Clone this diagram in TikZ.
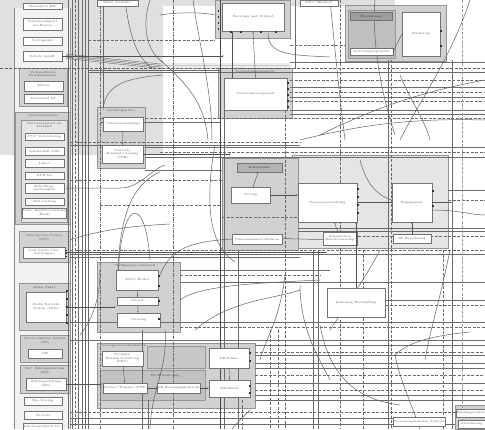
\documentclass[tikz,border=0pt]{standalone}
\usetikzlibrary{arrows.meta}
\begin{document}
\tikzset{
  bx/.style={draw=black!55, fill=white, line width=0.6pt, inner sep=0.3pt, outer sep=0pt,
    font=\fontsize{3}{3.5}\selectfont, align=center, text=black!65},
  grp/.style={draw=black!42, fill=black!18, line width=0.7pt},
  grpl/.style={draw=black!42, fill=black!10, line width=0.7pt},
  hdr/.style={font=\fontsize{3}{3.5}\selectfont, text=black!70, inner sep=0.3pt, align=center},
  ln/.style={draw=black!58, line width=0.4pt},
  lnd/.style={draw=black!58, line width=0.4pt, dash pattern=on 3pt off 1.5pt},
  lndd/.style={draw=black!58, line width=0.4pt, dash pattern=on 3pt off 1pt on 0.6pt off 1pt},
  lnh/.style={draw=black!72, line width=0.8pt},
  crv/.style={draw=black!62, line width=0.5pt},
  con/.style={draw=black!68, line width=0.4pt, -{Latex[length=1.6pt,width=1.3pt]}},
  port/.style={fill=black!80},
}
\newcommand\BX[7][]{\node[bx,#1,minimum width={(#5-#3)*1pt},minimum height={(#6-#4)*1pt}] (#2) at ({(#3+#5)/2},{(#4+#6)/2}) {#7};}
\newcommand\GR[5][grp]{\draw[#1] (#2,#3) rectangle (#4,#5);}
\begin{tikzpicture}[x=1pt,y=-1pt]
\useasboundingbox (0,0) rectangle (485,429);
\fill[white] (0,0) rectangle (485,429);
% gray sidebar backgrounds
\fill[black!12] (0,0) rectangle (163,155);
\fill[black!12] (0,0) rectangle (395,6);
% left column panel
\fill[black!5] (14,8) rectangle (70,429);
\draw[black!45, line width=0.6pt] (14,8) -- (14,429);
\draw[black!40, line width=0.5pt] (70,8) -- (70,429);

% ---------- groups ----------
\GR{19}{68}{67}{106}
\GR{15}{112}{70}{224}
\GR[grpl]{21}{120}{67}{222}
\GR{19}{231}{70}{262}
\GR{19}{283}{70}{330}
\GR{20}{335}{70}{362}
\GR{20}{365}{70}{393}
\GR{215}{0}{290}{38}
\GR{218}{68}{292}{118}
\GR{345}{5}{446}{61}
\draw[black!40, fill=black!25, line width=0.5pt] (348,10) rectangle (395,58);
\GR{97}{107}{145}{168}
\GR[grpl]{292}{155}{448}{248}
\GR{222}{158}{298}{250}
\GR{97}{262}{180}{332}
\GR{97}{343}{255}{408}
\draw[black!40, fill=black!24, line width=0.5pt] (100,370) rectangle (205,400);
\draw[black!40, fill=black!22, line width=0.5pt] (147,346) rectangle (205,368);
\GR{455}{405}{485}{429}

% ---------- horizontal lines ----------
\draw[lnd, line width=0.8pt, draw=black!62] (0,68) -- (485,68);
\foreach \y in {62,87,97,110,114} \draw[ln] (290,\y) -- (485,\y);
\foreach \y in {80,92,101} \draw[lnd] (290,\y) -- (485,\y);
\draw[ln] (88,72) -- (485,72);
\draw[ln] (88,70.5) -- (220,70.5);
\draw[lnd] (100,118) -- (485,118);
\draw[ln] (100,122) -- (220,122);
\draw[lnd] (88,40) -- (215,40);
\draw[lnd] (290,45) -- (345,45);
\draw[lnd] (70,142) -- (300,142);
\draw[ln] (70,145) -- (300,145);
\foreach \y in {147,157} \draw[ln] (145,\y) -- (485,\y);
\draw[lnd] (160,152) -- (485,152);
\draw[ln] (145,170) -- (222,170);
\draw[lnd] (70,180) -- (222,180);
\draw[lnd] (100,205) -- (222,205);
\draw[lnd] (222,217) -- (298,217);
\draw[ln] (448,190) -- (485,190);
\draw[lnd] (448,200) -- (485,200);
\draw[ln] (298,228) -- (485,228);
\draw[ln] (298,231.5) -- (485,231.5);
\draw[lnd] (340,236) -- (485,236);
\draw[lnd] (70,250) -- (485,250);
\draw[ln] (70,254) -- (485,254);
\draw[ln] (70,257) -- (300,257);
\draw[ln] (180,270) -- (330,270);
\draw[lnd] (180,275) -- (320,275);
\draw[ln] (180,282) -- (485,282);
\draw[ln] (385,300) -- (485,300);
\draw[lnd] (385,305) -- (485,305);
\draw[ln] (70,322) -- (485,322);
\draw[lnd] (180,327) -- (485,327);
\draw[ln] (70,340) -- (485,340);
\foreach \y in {345,355,363,368,383,395,400} \draw[ln] (255,\y) -- (485,\y);
\foreach \y in {352,375,390} \draw[lnd] (255,\y) -- (485,\y);
\draw[lnd] (70,412) -- (485,412);
\draw[ln] (70,418) -- (398,418);
\draw[ln] (70,424) -- (455,424);
% fan from Schufa GmbH
\foreach \i in {0,1.5,3,4.5} \draw[ln] (66,{54+\i}) -- (160,{64+\i}) -- (290,{64+\i});

% ---------- vertical lines ----------
\foreach \x in {68,72,78,82,85,88} \draw[ln] (\x,0) -- (\x,429);
\draw[lnd] (75,0) -- (75,429);
\draw[lndd] (100,0) -- (100,429);
\draw[ln] (103,0) -- (103,107);
\draw[lndd] (173,0) -- (173,429);
\draw[lnh] (220,0) -- (220,429);
\draw[ln] (224,110) -- (224,429);
\draw[lnd] (285,110) -- (285,429);
\draw[ln] (295,0) -- (295,68);
\draw[lnd] (340,0) -- (340,429);
\draw[ln] (313,250) -- (313,429);
\draw[ln] (318,250) -- (318,429);
\draw[lnd] (270,330) -- (270,429);
\draw[lnd] (278,330) -- (278,429);
\draw[lnd] (363,250) -- (363,429);
\draw[ln, line width=0.6pt] (388,60) -- (388,429);
\draw[lnd] (391,60) -- (391,429);
\draw[lnd] (443,250) -- (443,429);
\draw[ln] (452,60) -- (452,429);
\draw[lnd, draw=black!38] (462,0) -- (462,429);
\draw[ln] (238,250) -- (238,429);
\draw[lnd] (242,400) -- (242,429);
\draw[ln] (142,330) -- (142,429);
\draw[ln] (148,400) -- (148,429);

% ---------- curves ----------
\draw[crv] (103,110) .. controls (105,85) and (125,78) .. (163,75);
\draw[crv] (125,0) .. controls (130,40) and (138,58) .. (152,68);
\draw[crv] (150,0) .. controls (140,30) and (150,55) .. (163,62);
\draw[crv] (160,15) .. controls (180,12) and (200,12) .. (215,15);
\draw[crv] (193,0) .. controls (200,50) and (212,90) .. (212,140);
\draw[crv] (160,60) .. controls (195,90) and (205,110) .. (208,140);
\draw[crv] (268,33) .. controls (268,55) and (290,55) .. (330,57);
\draw[crv] (330,0) .. controls (335,50) and (340,100) .. (345,140);
\draw[crv] (470,0) .. controls (450,60) and (420,100) .. (400,140);
\draw[crv] (320,135) .. controls (380,105) and (430,90) .. (485,80);
\draw[crv] (300,140) .. controls (360,125) and (410,118) .. (485,120);
\draw[crv] (400,75) .. controls (410,100) and (425,120) .. (430,140);
\draw[crv] (375,0) .. controls (372,40) and (380,90) .. (395,135);
\draw[crv] (66,188) -- (120,188) .. controls (140,188) and (150,170) .. (165,165);
\draw[crv] (160,172) .. controls (130,185) and (120,220) .. (118,270);
\draw[crv] (118,280) .. controls (120,200) and (145,190) .. (150,260);
\draw[crv] (70,240) .. controls (100,230) and (130,226) .. (170,224);
\draw[crv] (215,145) .. controls (205,200) and (208,245) .. (235,262);
\draw[crv] (160,275) .. controls (175,240) and (200,235) .. (330,240);
\draw[crv] (180,300) .. controls (200,285) and (260,283) .. (320,280);
\draw[crv] (285,275) .. controls (280,320) and (265,340) .. (260,360);
\draw[crv] (300,285) .. controls (300,330) and (320,360) .. (330,380);
\draw[crv] (100,270) .. controls (100,300) and (92,320) .. (80,335);
\draw[crv] (165,330) .. controls (168,370) and (152,385) .. (150,429);
\draw[crv] (320,325) .. controls (330,380) and (360,400) .. (400,405);
\draw[crv] (395,355) .. controls (410,340) and (440,335) .. (470,332);
\draw[crv] (395,355) .. controls (400,380) and (410,400) .. (420,429);
\draw[crv] (195,330) .. controls (230,300) and (270,300) .. (300,290);
\draw[crv] (360,160) .. controls (365,180) and (375,195) .. (392,200);
\draw[crv] (432,210) .. controls (460,210) and (470,215) .. (485,215);
\draw[crv] (250,410) .. controls (240,420) and (235,425) .. (232,429);
\draw[crv] (330,330) .. controls (350,300) and (370,270) .. (380,250);
\draw[crv] (450,250) .. controls (440,300) and (430,330) .. (425,360);

% ---------- top strip boxes ----------
\BX{wk}{23}{3}{62}{9}{Warenkorb ZW}
\BX{mv}{97}{0}{138}{6}{Mitte (Verkehr)}
\BX{av}{300}{0}{338}{6}{Auto (Wechsel)}

% ---------- left column boxes ----------
\BX{va}{23}{18}{62}{30}{Versicherungsart\\der Bayern}
\BX{vi}{23}{37}{62}{45}{Vertragsinfo}
\BX{sg}{23}{51}{62}{61}{Schufa GmbH}
\node[hdr] (h1) at (43,74) {Verbundf\"uhrte\\Drucksachenart};
\BX{zi}{24}{81}{63}{91}{Zitiery}
\BX{kt}{24}{94}{63}{103}{Kartonteil LF}
\node[hdr] (h2) at (43,115.5) {Vertriebspartner};
\node[hdr] (h2b) at (44,125) {Vertriebspartner im\\Verbund};
\BX{pvv}{25}{133}{64}{140}{PVV Vertriebsweg}
\BX{oms}{25}{147}{64}{155}{Schadenfall OMS}
\BX{inf}{25}{159}{64}{167}{Infoce}
\BX{bvb}{25}{172}{64}{179}{BVB-Nu}
\BX{mit}{25}{183}{64}{193}{Mitteilung/\\Ausbezahlen}
\BX{spa}{25}{198}{64}{205}{SPA Leitung}
\BX{gkv}{25}{208}{64}{218}{Gebr. Kreditverwaltung\\(Bank)}
\node[hdr] (h3) at (44,238) {Sales Service Center\\(SSC)};
\BX{ccu}{23}{247}{65}{258}{Call Center User\\(Leitungen)}
\node[hdr] (h4) at (44,287) {Media Paket};
\BX{mns}{26}{292}{66}{322}{Media Network\\System (MNS)}
\node[hdr] (h5) at (45,341) {Service-Inform.-System\\(SIS)};
\BX{ois}{28}{349}{62}{358}{OIS}
\node[hdr] (h6) at (45,371) {Def. Zahlungssystems\\(ZaS)};
\BX{zus}{26}{378}{66}{390}{Zahlungsstellung\\(ZuS)}
\BX{ev}{24}{397}{62}{405}{Ein-Vertrag}
\BX{vic}{24}{411}{62}{419}{VI-Code}
\BX{lsv}{24}{423}{62}{431}{L\"anderspezifisch Vor.}

% ---------- top area ----------
\BX{bvk}{222}{3}{284}{31}{Beratung und Verkauf}
\node[hdr] (h7) at (255,71.5) {Vertriebsmanagement};
\BX{vm}{224}{78}{287}{110}{Vertriebsmanagement}
\BX[fill=black!38, text=black!80]{prv}{350}{12}{392}{20}{Provisionen}
\BX{vpg}{350}{48}{393}{55}{Vertriebsprogramme}
\BX{mk}{402}{12}{440}{56}{Marketing}

% ---------- middle ----------
\node[hdr] (h8) at (121,111) {Verbundpartner};
\BX{uf}{103}{117}{143}{131}{Unternehmensfolge}
\BX{vbk}{102}{145}{143}{163}{Vertrieb/\\Kundenbetreuung\\(VBK)}
\BX[fill=black!30, text=black!80]{ka}{237}{163}{282}{172}{Kundenakte}
\BX{vt}{231}{187}{270}{203}{Vertrag}
\BX{us}{232}{234}{282}{244}{Unternehmensstrukturen}
\BX{pv}{298}{183}{357}{222}{Personenverwaltung}
\BX{eg}{392}{183}{432}{222}{Engagement}
\BX{ez}{323}{232}{357}{245}{Einzelzeiten\\Konditionierung}
\BX{bb}{393}{234}{431}{243}{Bil Berechnung}
\node[hdr] (h9) at (135,265.5) {Verf\"ugungsbereitschaft};
\BX{br}{116}{270}{158}{290}{(DSO) Broker}
\BX{op}{117}{297}{158}{305}{Output}
\BX{cl}{117}{313}{160}{327}{Clearing}
\BX{lb}{327}{288}{385}{317}{Lieferung/Beschaffung}

% ---------- bottom ----------
\node[hdr, anchor=west] (h10) at (100,346) {Vertragsverbindlichkeiten};
\BX{pkv}{102}{351}{143}{366}{Produkt-\\Kundenverwaltung\\(PKV)}
\node[hdr] (h11) at (165,376) {PK-Erweiterung};
\BX{ptf}{105}{383}{145}{393}{Partner/Transfer (PTF)}
\BX{pkr}{158}{383}{200}{393}{PK-Rechnungskontrolle}
\BX{dbk}{209}{348}{249}{368}{DB-Kunde}
\BX{dbi}{209}{380}{250}{397}{DB-Inhalt}
\BX{pos}{398}{417}{440}{426}{Prozessorganisation Systeme}
\BX{zv}{458}{409}{485}{417}{Zahlungsverkehr}
\BX{zv2}{458}{420}{485}{428}{Abrechnung}

% ---------- connectors ----------
\draw[con] (vm.north) -- (bvk.south);
\draw[con] (vm.north west) ++(8,0) -- ++(0,-47);
\draw[con] (pv) -- (eg);
\draw[con] (vt) -- (pv.west |- vt);
\draw[con] (ka) -- (vt);
\draw[con] (br) -- (op);
\draw[con] (op) -- (cl);
\draw[con] (dbk) -- (dbi);
\draw[con] (pkv) -- (ptf);
\draw[con] (ptf) -- (pkr);
\draw[con] (pkr.east) -- (dbi.west |- pkr.east);
\draw[con] (uf) -- (vbk);
\draw[con] (vbk.east) -- (vt.west |- vbk.east);
\draw[con] (sg.east) -- (sg.east -| vm.west);
\draw[con] (mns.east) -- (br.west |- mns.east);
\draw[con] (ccu.east) -- (ccu.east -| lb.west);
\draw[con] (eg.east) -- ++(20,0);
\draw[con] (ez) -- (pv);
\draw[con] (bb) -- (eg);
\draw[con] (lb.north) -- (lb.north |- pv.south);
\draw[con] (mk.west) -- (vpg.east);
\draw[con] (zus.east) -- (pkv.west |- zus.east);

% ---------- ports ----------
\foreach \y in {82,88,94,100,106} \fill[port] (287,\y) rectangle +(1.8,1.6);
\foreach \y in {10,16,22,28} \fill[port] (217.5,\y) rectangle +(1.8,1.6);
\foreach \y in {290,298,306,314,322} \fill[port] (66,\y) rectangle +(1.8,1.6);
\foreach \y in {250,253,256} \fill[port] (65,\y) rectangle +(1.8,1.4);
\foreach \y in {188,196,204,212} \fill[port] (357,\y) rectangle +(1.8,1.6);
\foreach \y in {190,205} \fill[port] (432,\y) rectangle +(1.8,1.6);
\foreach \x in {230,240,260,275} \fill[port] (\x,31) rectangle +(1.6,1.8);
\foreach \y in {352,360,385,392} \fill[port] (249,\y) rectangle +(1.8,1.6);
\foreach \y in {275,285,300,318} \fill[port] (158,\y) rectangle +(1.8,1.6);
\fill[port] (440,30) rectangle +(1.8,1.6);
\fill[port] (440,45) rectangle +(1.8,1.6);

\end{tikzpicture}
\end{document}
